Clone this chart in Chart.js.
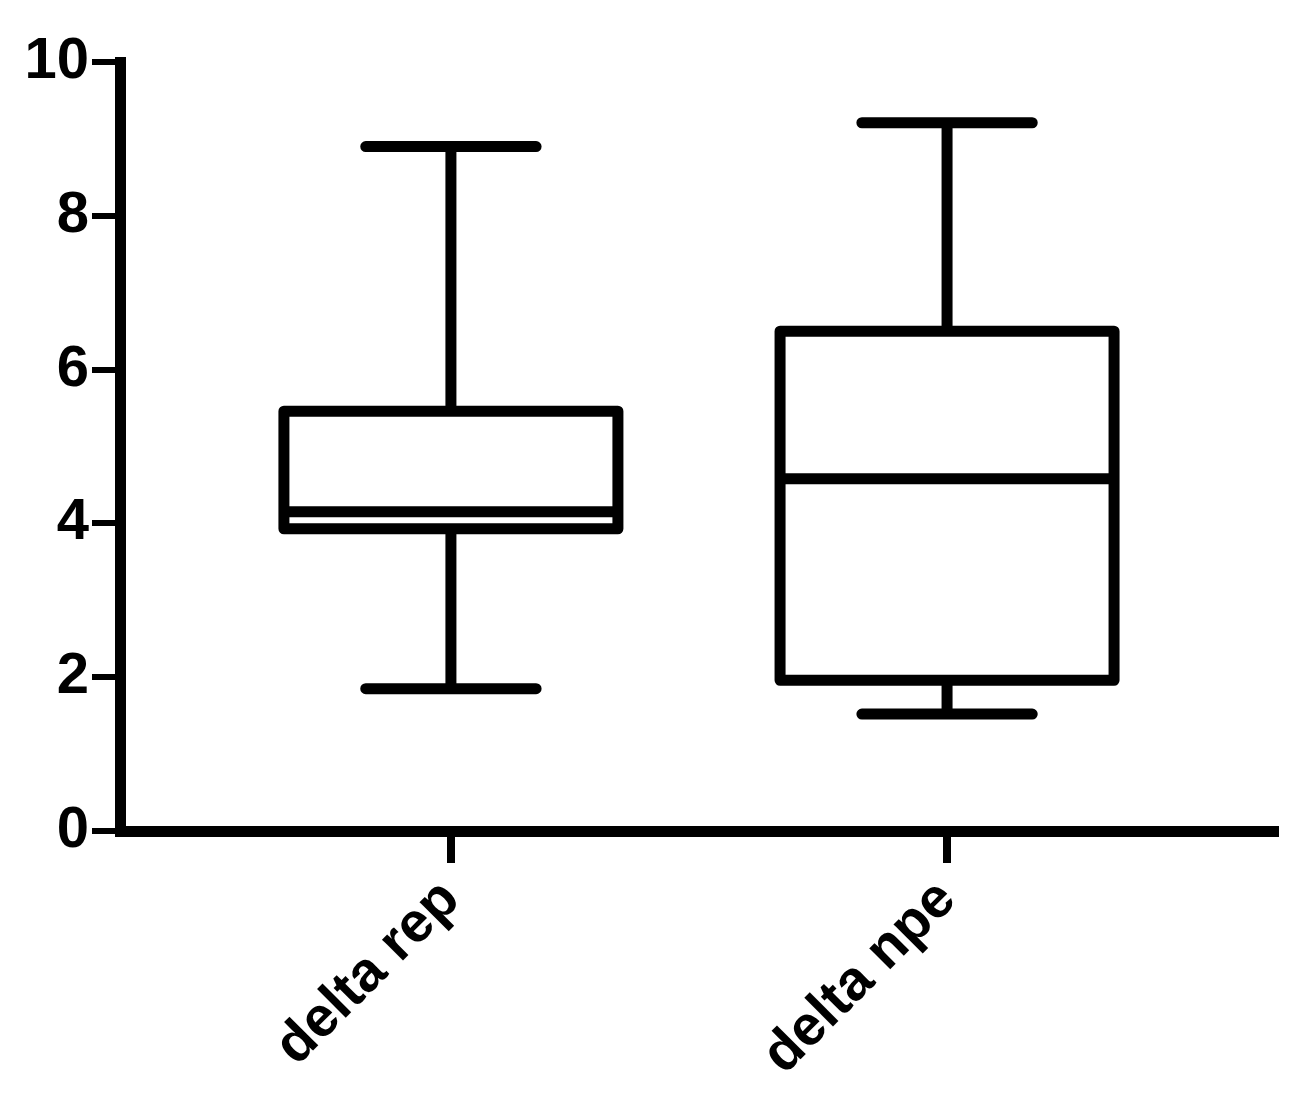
<!DOCTYPE html>
<html>
<head>
<meta charset="utf-8">
<script src="https://cdn.jsdelivr.net/npm/chart.js@4.4.0/dist/chart.umd.min.js"></script>
<style>
  html, body { margin: 0; padding: 0; background: #fff; }
  #wrap { width: 1302px; height: 1104px; }
</style>
</head>
<body>
<div id="wrap"><canvas id="myChart" width="1302" height="1104"></canvas></div>
<script>
// box plot values
const categories = ["delta rep", "delta npe"];
const positions = [1, 2];
const whiskerMin = [1.85, 1.52];
const q1 = [3.93, 1.96];
const median = [4.15, 4.58];
const q3 = [5.46, 6.50];
const whiskerMax = [8.90, 9.21];
const yTicks = [0, 2, 4, 6, 8, 10];

const LW = 11; // line thickness of the boxes / whiskers

// whiskers, medians and box outlines, drawn from the bar elements + y scale
var boxPlugin = {
    id: "boxLines",
    afterDatasetsDraw(chart) {
        let ctx = chart.ctx;
        let y = chart.scales.y;
        let meta = chart.getDatasetMeta(0);
        ctx.save();
        ctx.strokeStyle = "#000";
        ctx.lineWidth = LW;
        meta.data.forEach((bar, i) => {
            let cx = bar.x;
            let half = bar.width / 2;
            let top = y.getPixelForValue(q3[i]);
            let bot = y.getPixelForValue(q1[i]);
            let hi = y.getPixelForValue(whiskerMax[i]);
            let lo = y.getPixelForValue(whiskerMin[i]);
            let cap = bar.width * 0.255;

            // whisker stems
            ctx.lineCap = "butt";
            ctx.beginPath();
            ctx.moveTo(cx, top); ctx.lineTo(cx, hi);
            ctx.moveTo(cx, bot); ctx.lineTo(cx, lo);
            ctx.stroke();

            // caps
            ctx.lineCap = "round";
            ctx.beginPath();
            ctx.moveTo(cx - cap, hi); ctx.lineTo(cx + cap, hi);
            ctx.moveTo(cx - cap, lo); ctx.lineTo(cx + cap, lo);
            ctx.stroke();

            // box
            ctx.lineJoin = "round";
            ctx.strokeRect(cx - half, top, bar.width, bot - top);

            // median
            let m = y.getPixelForValue(median[i]);
            ctx.lineCap = "butt";
            ctx.beginPath();
            ctx.moveTo(cx - half, m); ctx.lineTo(cx + half, m);
            ctx.stroke();
        });
        ctx.restore();
    }
};

var ctx = document.getElementById("myChart").getContext("2d");
var chart = new Chart(ctx, {
    type: "bar",
    data: {
        datasets: [{
            data: positions.map((p, i) => ({ x: p, y: [q1[i], q3[i]] })),
            backgroundColor: "#fff",
            borderWidth: 0,
            barThickness: 334
        }]
    },
    options: {
        responsive: false,
        animation: false,
        layout: { padding: { top: 62, right: 27, left: 0, bottom: 0 } },
        plugins: { legend: { display: false }, tooltip: { enabled: false } },
        scales: {
            x: {
                type: "linear",
                min: 0.333,
                max: 2.661,
                offset: false,
                afterBuildTicks: (s) => { s.ticks = positions.map(v => ({ value: v })); },
                afterFit: (s) => { s.height = 273; },
                border: { display: true, color: "#000", width: LW },
                grid: { offset: false, drawOnChartArea: false, color: "#000", lineWidth: 8, tickLength: 32 },
                ticks: {
                    color: "#000",
                    font: { family: "Liberation Sans", weight: "bold", size: 56 },
                    minRotation: 45,
                    maxRotation: 45,
                    padding: 4,
                    callback: (v) => categories[positions.indexOf(v)] || ""
                }
            },
            y: {
                min: 0,
                max: 10,
                afterBuildTicks: (s) => { s.ticks = yTicks.map(v => ({ value: v })); },
                afterFit: (s) => { s.width = 120; },
                border: { display: true, color: "#000", width: LW },
                grid: { drawOnChartArea: false, color: "#000", lineWidth: 6, tickLength: 28 },
                ticks: {
                    color: "#000",
                    font: { family: "Liberation Sans", weight: "bold", size: 58 },
                    padding: 3
                }
            }
        }
    },
    plugins: [boxPlugin]
});
</script>
</body>
</html>
